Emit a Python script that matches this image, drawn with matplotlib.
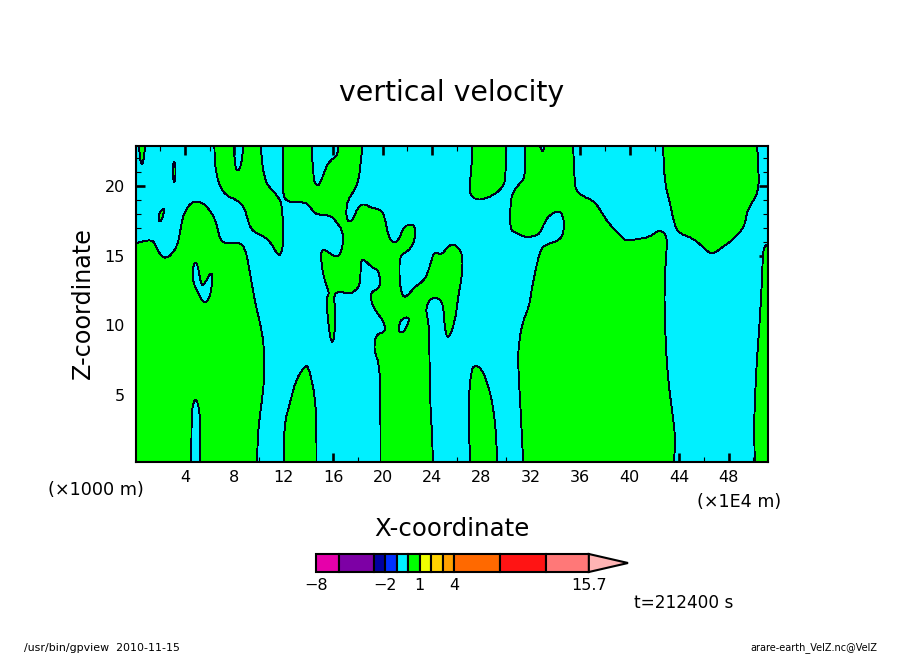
import matplotlib
matplotlib.use("Agg")
import matplotlib.pyplot as plt
from matplotlib.path import Path
from matplotlib.patches import PathPatch

# regioes verdes (velocidade > 0): (x [1E4 m], z [1000 m])
left_block = [(0, 15.89), (.63, 16.03), (1.39, 16.13), (1.66, 15.65), (2.04, 15.0), (2.47, 14.79), (2.93, 15.10),
              (3.38, 15.70), (3.60, 16.61), (3.79, 17.68), (4.14, 18.40), (4.54, 18.81), (4.95, 18.90), (5.49, 18.76),
              (6.03, 18.23), (6.46, 17.56), (6.67, 16.85), (6.84, 16.18), (7.16, 15.89), (7.91, 15.89), (8.45, 15.94),
              (8.86, 15.53), (9.13, 14.46), (9.40, 13.02), (9.75, 11.35), (10.12, 10.04), (10.42, 8.48), (10.42, 6.09),
              (10.20, 4.42), (10.02, 3.23), (9.85, 1.55), (9.85, .2), (5.24, .2), (5.24, 2.99), (5.14, 4.18),
              (4.87, 4.78), (4.60, 4.30), (4.52, 2.99), (4.52, .2), (0, .2)]
top_tip = [(.28, 22.87), (.77, 22.87), (.69, 21.98), (.53, 21.43), (.36, 21.86)]
small_a = [(3.06, 21.74), (3.22, 21.62), (3.25, 20.91), (3.20, 20.26), (3.06, 20.31), (3.03, 21.15)]
small_b = [(2.20, 18.40), (2.33, 18.28), (2.20, 17.75), (1.98, 17.37), (1.85, 17.56), (1.90, 17.99)]
top_12 = [(6.38, 22.87), (6.43, 21.51), (6.62, 20.55), (6.89, 19.83), (7.37, 19.28), (8.18, 19.0), (8.78, 18.52),
          (9.05, 17.68), (9.32, 16.89), (9.93, 16.54), (10.61, 16.25), (11.01, 15.84), (11.50, 15.05), (11.74, 15.05),
          (11.96, 15.65), (11.90, 18.52), (11.55, 19.24), (10.88, 19.83), (10.47, 20.43), (10.20, 21.86), (10.15, 22.87),
          (8.72, 22.87), (8.64, 21.98), (8.45, 21.19), (8.24, 21.05), (8.05, 21.39), (7.94, 22.87)]
center = [(11.90, 22.87), (11.90, 19.47), (12.17, 18.92), (12.77, 18.81), (13.71, 18.83), (14.11, 18.52), (14.52, 17.99),
          (15.06, 17.92), (15.87, 17.85), (16.27, 17.37), (16.73, 16.85), (16.81, 16.13), (16.68, 15.29), (16.32, 14.89),
          (15.87, 15.05), (15.33, 15.46), (14.98, 15.29), (15.06, 14.34), (15.25, 13.38), (15.60, 12.54), (15.65, 12.19),
          (15.46, 12.07), (15.52, 10.87), (15.73, 9.20), (15.92, 8.72), (16.08, 9.08), (16.22, 11.11), (16.0, 12.07),
          (16.41, 12.50), (17.21, 12.23), (17.75, 12.43), (18.21, 12.97), (18.21, 14.58), (18.48, 14.74), (19.10, 14.17),
          (19.72, 13.93), (19.83, 12.66), (19.10, 12.47), (19.02, 11.83), (19.37, 11.11), (20.10, 10.27), (20.26, 9.56),
          (19.51, 9.37), (19.32, 8.72), (19.37, 8.0), (19.70, 7.34), (19.83, 5.38), (19.83, .2), (24.04, .2), (24.04, 1.79),
          (23.82, 4.66), (23.77, 10.16), (23.50, 10.87), (23.60, 11.59), (24.04, 12.0), (24.49, 11.95), (24.90, 11.59),
          (25.03, 9.68), (25.30, 8.96), (25.84, 10.16), (26.11, 12.07), (26.46, 13.74), (26.46, 15.17), (25.98, 15.70),
          (25.57, 15.82), (25.17, 15.53), (24.76, 15.05), (24.14, 15.29), (23.82, 14.22), (23.42, 13.26), (22.61, 12.78),
          (22.20, 12.31), (21.72, 11.95), (21.45, 12.54), (21.34, 13.74), (21.39, 14.93), (21.80, 15.22), (22.34, 15.53),
          (22.69, 16.49), (22.61, 17.13), (22.20, 17.25), (21.66, 17.04), (21.34, 16.13), (20.86, 15.89), (20.45, 16.37),
          (20.18, 17.80), (19.78, 18.35), (19.10, 18.40), (18.43, 18.76), (17.94, 18.40), (17.62, 17.56), (17.13, 17.40),
          (17.03, 18.28), (17.21, 19.04), (17.75, 19.71), (18.16, 20.67), (18.35, 22.87), (16.41, 22.87), (16.32, 22.10),
          (15.73, 21.82), (15.33, 21.15), (14.92, 20.07), (14.65, 20.0), (14.38, 20.43), (14.25, 22.87)]
low_13 = [(11.99, .2), (12.04, 2.99), (12.50, 4.42), (12.96, 6.09), (13.71, 7.12), (13.98, 7.05), (14.25, 6.09),
          (14.52, 4.90), (14.65, 2.99), (14.65, .2)]
top_28 = [(27.24, 22.87), (27.19, 21.15), (27.0, 19.95), (27.11, 19.35), (27.54, 19.0), (28.27, 19.04), (29.21, 19.47),
          (29.75, 19.95), (29.97, 20.55), (30.02, 22.87)]
low_28 = [(27.11, .2), (26.93, 2.99), (27.0, 5.38), (27.19, 6.81), (27.46, 7.17), (28.0, 6.93), (28.54, 5.73),
          (28.95, 4.18), (29.21, 2.03), (29.27, .2)]
big_right = [(31.5, 22.87), (31.56, 20.55), (30.96, 20.07), (30.42, 19.35), (30.32, 18.28), (30.32, 16.80), (30.83, 16.65),
             (31.42, 16.32), (32.18, 16.37), (32.72, 16.54), (33.12, 17.44), (33.53, 17.92), (34.2, 18.21), (34.55, 17.99),
             (34.71, 17.20), (34.55, 16.37), (34.07, 16.01), (33.12, 15.77), (32.77, 15.41), (32.4, 14.10), (32.05, 12.54),
             (31.86, 11.35), (31.32, 10.27), (31.02, 8.72), (30.94, 7.29), (31.16, 4.18), (31.37, .2), (43.58, .2),
             (43.69, 2.03), (43.45, 3.70), (43.10, 6.09), (42.88, 8.96), (42.77, 13.02), (43.02, 15.65), (42.96, 16.49),
             (42.56, 16.77), (42.16, 16.73), (41.61, 16.32), (40.54, 16.18), (39.73, 16.03), (39.33, 16.37), (38.38, 17.20),
             (37.84, 17.92), (37.17, 18.88), (36.23, 19.24), (35.69, 19.59), (35.5, 20.31), (35.42, 22.87), (33.12, 22.87),
             (32.93, 22.29), (32.72, 22.87)]
top_right = [(42.69, 22.87), (42.82, 20.19), (43.23, 18.88), (43.64, 17.08), (44.04, 16.56), (45.12, 16.25), (45.93, 15.60),
             (46.47, 15.17), (46.87, 15.17), (47.55, 15.65), (48.36, 16.13), (49.3, 17.08), (49.44, 18.04), (49.84, 18.76),
             (50.38, 19.47), (50.46, 20.91), (50.3, 22.87)]
right_edge = [(51.3, 15.82), (50.78, 15.65), (50.73, 13.74), (50.51, 10.16), (50.24, 7.05), (50.11, 4.18), (50.05, 2.75),
              (50.11, .2), (51.3, .2)]
green_regions = [left_block, top_tip, small_a, small_b, top_12, center, low_13, top_28, low_28, big_right, top_right, right_edge]

# buracos (negativo) dentro das regioes verdes
hole_left = [(4.81, 14.53), (5.03, 14.34), (5.16, 13.62), (5.35, 12.83), (5.62, 13.02), (6.03, 13.74), (6.21, 13.69),
             (6.19, 12.78), (5.97, 11.95), (5.65, 11.59), (5.35, 11.83), (5.08, 12.31), (4.73, 12.90), (4.60, 13.62), (4.68, 14.22)]
hole_center = [(21.53, 10.47), (22.07, 10.63), (22.15, 10.27), (21.80, 9.68), (21.61, 9.44), (21.26, 9.63), (21.34, 10.04)]

# barra de cores
levels = [-8, -6, -3, -2, -1, 0, 1, 2, 3, 4, 8, 12, 15.7]
level_colors = ["#E600AA", "#7D00A5", "#0000A0", "#0030FF", "#00F0FF", "#00FF00", "#F0FF00", "#FFD200", "#FFA000",
                "#FF6900", "#FF1414", "#FF7878"]
over_color = "#FFB4B4"
over_tip = 19.1
cbar_ticks = [-8, -2, 1, 4, 15.7]
cbar_labels = ["\u22128", "\u22122", "1", "4", "15.7"]

W, H = 904, 654
CYAN = "#00F0FF"
GREEN = "#00FF00"
LINE = "#000020"

plt.rcParams["font.family"] = "DejaVu Sans"


def axes_box(x0, x1, ytop, ybot):
    return [x0 / W, 1 - ybot / H, (x1 - x0) / W, (ybot - ytop) / H]


def on_border(p):
    return p[1] <= 0.2 or p[1] >= 22.87 or p[0] <= 0 or p[0] >= 51.3


def mid(a, b):
    return ((a[0] + b[0]) / 2, (a[1] + b[1]) / 2)


# contorno arredondado: cada vertice vira ponto de controle de uma curva
def contour_path(pts):
    n = len(pts)
    start = pts[0] if on_border(pts[0]) else mid(pts[-1], pts[0])
    verts = [start]
    codes = [Path.MOVETO]
    for i in range(n):
        p = pts[i]
        nxt = pts[(i + 1) % n]
        end = nxt if on_border(nxt) else mid(p, nxt)
        if on_border(p):
            verts.append(end)
            codes.append(Path.LINETO)
        else:
            verts += [p, end]
            codes += [Path.CURVE3, Path.CURVE3]
    return Path(verts, codes)


fig = plt.figure(figsize=(W / 100, H / 100), dpi=100, facecolor="white")
ax = fig.add_axes(axes_box(136, 767.7, 146, 462.3))
ax.set_facecolor(CYAN)

for reg in green_regions:
    ax.add_patch(PathPatch(contour_path(reg), fc=GREEN, ec=LINE, lw=0.65, zorder=2, antialiased=False))
for reg in [hole_left, hole_center]:
    ax.add_patch(PathPatch(contour_path(reg), fc=CYAN, ec=LINE, lw=0.65, zorder=3, antialiased=False))

ax.set_xlim(0.04, 51.16)
ax.set_ylim(0.2, 22.85)
ax.set_xticks(range(4, 51, 4))
ax.set_xticks(range(2, 51, 2), minor=True)
ax.set_yticks(range(5, 21, 5))
ax.set_yticks(range(1, 23), minor=True)
ax.tick_params(which="major", direction="in", top=True, right=True, length=6.5, width=1.9, labelsize=11.5)
ax.tick_params(which="minor", direction="in", top=True, right=True, length=3.3, width=0.8)
ax.tick_params(axis="x", which="major", pad=5.5)
ax.tick_params(axis="y", which="major", pad=8)
for s in ax.spines.values():
    s.set_linewidth(1.5)
    s.set_zorder(5)

fig.text(452 / W, 1 - 93 / H, "vertical velocity", fontsize=20.4, ha="center", va="center")
fig.text(83 / W, 1 - 303 / H, "Z-coordinate", fontsize=17.2, rotation=90, ha="center", va="center")
fig.text(452 / W, 1 - 529 / H, "X-coordinate", fontsize=17.6, ha="center", va="center")
fig.text(95.5 / W, 1 - 490 / H, "(\u00d71000 m)", fontsize=12.7, ha="center", va="center")
fig.text(739 / W, 1 - 502 / H, "(\u00d71E4 m)", fontsize=12.6, ha="center", va="center")
fig.text(684 / W, 1 - 603 / H, "t=212400 s", fontsize=12.2, ha="center", va="center")
fig.text(24 / W, 1 - 648 / H, "/usr/bin/gpview  2010-11-15", fontsize=7.9, ha="left", va="center")
fig.text(877 / W, 1 - 648 / H, "arare-earth_VelZ.nc@VelZ", fontsize=7, ha="right", va="center")

# barra de cores desenhada com barras
cax = fig.add_axes(axes_box(316, 628, 554, 572))
cax.set_xlim(levels[0], over_tip)
cax.set_ylim(0, 1)
cax.barh(0.5, [b - a for a, b in zip(levels[:-1], levels[1:])], left=levels[:-1], height=1, color=level_colors,
         edgecolor="black", lw=1.5, clip_on=False)
cax.fill([levels[-1], over_tip, levels[-1]], [1, 0.5, 0], fc=over_color, ec="black", lw=1.5, clip_on=False)
for s in cax.spines.values():
    s.set_visible(False)
cax.set_yticks([])
cax.set_xticks(cbar_ticks)
cax.set_xticklabels(cbar_labels, fontsize=11.5)
cax.tick_params(axis="x", length=0, pad=4.5)

fig.savefig("out.png", dpi=100, facecolor="white")
